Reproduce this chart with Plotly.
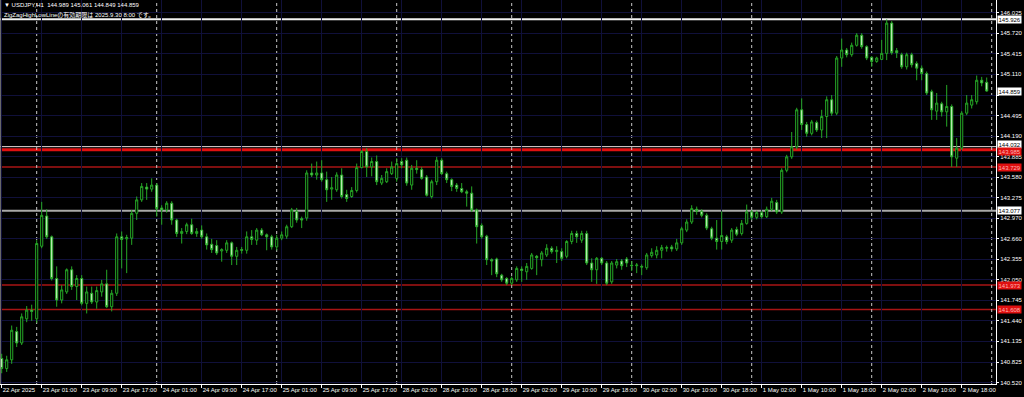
import plotly.graph_objects as go

# ---------------- data (USDJPY H1) ----------------
opens = [
    140.88, 140.73, 140.86, 141.28, 141.11, 141.47, 141.60, 141.47, 142.55, 143.00,
    142.69, 142.07, 141.75, 141.87, 142.20, 141.95, 142.07, 141.70, 141.85, 141.72,
    141.87, 141.99, 141.65, 141.85, 142.69, 142.66, 142.67, 143.04, 143.24, 143.43,
    143.40, 143.46, 143.12, 143.09, 143.19, 142.94, 142.74, 142.77, 142.87, 142.74,
    142.79, 142.69, 142.58, 142.56, 142.48, 142.49, 142.60, 142.40, 142.50, 142.49,
    142.69, 142.64, 142.79, 142.72, 142.69, 142.54, 142.67, 142.70, 142.84, 143.07,
    142.96, 142.97, 143.64, 143.61, 143.64, 143.54, 143.40, 143.39, 143.61, 143.32,
    143.29, 143.38, 143.72, 143.96, 143.73, 143.81, 143.49, 143.51, 143.63, 143.56,
    143.81, 143.83, 143.46, 143.71, 143.69, 143.58, 143.29, 143.51, 143.83, 143.63,
    143.54, 143.46, 143.41, 143.36, 143.34, 143.09, 142.86, 142.70, 142.35, 142.36,
    142.12, 142.07, 142.00, 142.05, 142.21, 142.17, 142.22, 142.40, 142.35, 142.42,
    142.52, 142.47, 142.47, 142.40, 142.62, 142.74, 142.64, 142.74, 142.30, 142.20,
    142.37, 142.30, 142.02, 142.27, 142.33, 142.36, 142.27, 142.26, 142.25, 142.23,
    142.41, 142.42, 142.49, 142.52, 142.54, 142.51, 142.60, 142.79, 142.91, 143.10,
    143.07, 143.01, 142.81, 142.67, 142.62, 142.69, 142.64, 142.80, 142.74, 142.89,
    143.06, 142.98, 143.05, 142.99, 143.10, 143.20, 143.06, 143.68, 143.88, 144.03,
    144.58, 144.36, 144.23, 144.39, 144.28, 144.48, 144.73, 144.53, 145.35, 145.47,
    145.40, 145.54, 145.69, 145.52, 145.36, 145.30, 145.33, 145.42, 145.87, 145.46,
    145.40, 145.22, 145.40, 145.27, 145.20, 145.12, 144.85, 144.56, 144.67, 144.55,
    144.63, 143.86, 144.01, 144.53, 144.65, 144.70, 145.02, 144.989,
]
highs = [
    140.95, 140.92, 141.37, 141.35, 141.55, 141.66, 141.68, 142.64, 143.21, 143.10,
    142.71, 142.25, 141.97, 142.22, 142.25, 142.12, 142.12, 141.95, 141.95, 141.95,
    142.05, 142.20, 141.90, 142.74, 142.77, 142.72, 143.09, 143.29, 143.49, 143.49,
    143.56, 143.49, 143.16, 143.22, 143.22, 142.96, 142.82, 142.90, 142.96, 142.82,
    142.86, 142.74, 142.66, 142.64, 142.52, 142.64, 142.62, 142.54, 142.54, 142.77,
    142.79, 142.82, 142.82, 142.74, 142.72, 142.72, 142.77, 142.87, 143.12, 143.12,
    142.99, 143.68, 143.78, 143.81, 143.83, 143.66, 143.58, 143.65, 143.71, 143.39,
    143.43, 143.78, 143.98, 144.01, 143.87, 143.90, 143.61, 143.71, 143.81, 143.86,
    143.86, 143.87, 143.76, 143.83, 143.73, 143.61, 143.54, 143.88, 143.86, 143.66,
    143.56, 143.49, 143.49, 143.39, 143.44, 143.11, 142.89, 142.72, 142.37, 142.38,
    142.14, 142.09, 142.10, 142.25, 142.25, 142.30, 142.45, 142.42, 142.48, 142.58,
    142.55, 142.55, 142.52, 142.64, 142.78, 142.78, 142.78, 142.78, 142.37, 142.39,
    142.39, 142.33, 142.33, 142.36, 142.36, 142.39, 142.33, 142.30, 142.28, 142.45,
    142.52, 142.55, 142.57, 142.56, 142.57, 142.66, 142.84, 142.95, 143.16, 143.14,
    143.10, 143.04, 142.84, 142.94, 143.07, 142.72, 142.82, 142.84, 142.94, 143.17,
    143.09, 143.08, 143.08, 143.14, 143.27, 143.24, 143.71, 143.91, 144.25, 144.61,
    144.75, 144.40, 144.43, 144.42, 144.58, 144.78, 144.80, 145.38, 145.64, 145.50,
    145.58, 145.72, 145.72, 145.54, 145.38, 145.37, 145.62, 145.926, 145.90, 145.50,
    145.43, 145.43, 145.43, 145.30, 145.24, 145.15, 144.88, 144.83, 144.70, 144.95,
    144.66, 144.16, 144.56, 144.80, 144.80, 145.09, 145.07, 145.061,
]
lows = [
    140.66, 140.68, 140.80, 141.05, 141.08, 141.42, 141.44, 141.41, 142.52, 142.66,
    142.04, 141.65, 141.70, 141.84, 141.90, 141.75, 141.67, 141.55, 141.69, 141.62,
    141.80, 141.63, 141.58, 141.81, 142.22, 142.15, 142.57, 142.94, 143.21, 143.24,
    143.36, 142.99, 142.87, 143.05, 142.87, 142.69, 142.59, 142.73, 142.72, 142.69,
    142.66, 142.50, 142.45, 142.42, 142.32, 142.45, 142.27, 142.27, 142.44, 142.44,
    142.57, 142.57, 142.70, 142.49, 142.50, 142.49, 142.64, 142.66, 142.82, 142.90,
    142.82, 142.93, 143.58, 143.54, 143.51, 143.21, 143.24, 143.36, 143.26, 143.21,
    143.27, 143.35, 143.71, 143.58, 143.59, 143.46, 143.46, 143.49, 143.61, 143.51,
    143.71, 143.45, 143.39, 143.63, 143.54, 143.29, 143.26, 143.46, 143.61, 143.49,
    143.37, 143.36, 143.34, 143.14, 143.06, 142.59, 142.66, 142.27, 142.12, 142.09,
    142.02, 141.97, 141.97, 142.02, 142.02, 142.05, 142.20, 142.12, 142.25, 142.39,
    142.44, 142.30, 142.33, 142.37, 142.58, 142.60, 142.60, 142.27, 142.02, 141.99,
    142.27, 141.97, 141.99, 142.22, 142.20, 142.24, 142.18, 142.15, 142.12, 142.20,
    142.38, 142.37, 142.37, 142.47, 142.47, 142.48, 142.57, 142.76, 142.88, 143.02,
    142.98, 142.79, 142.64, 142.50, 142.50, 142.58, 142.60, 142.70, 142.71, 142.87,
    142.94, 142.95, 142.96, 142.97, 143.07, 143.03, 143.03, 143.65, 143.85, 143.99,
    144.28, 144.18, 144.20, 144.25, 144.16, 144.16, 144.49, 144.50, 145.22, 145.36,
    145.37, 145.52, 145.49, 145.32, 145.22, 145.28, 145.32, 145.32, 145.40, 145.35,
    145.19, 145.18, 145.21, 145.02, 145.02, 144.80, 144.43, 144.43, 144.48, 144.33,
    143.73, 143.73, 143.98, 144.50, 144.60, 144.66, 144.93, 144.849,
]
closes = [
    140.73, 140.86, 141.30, 141.11, 141.50, 141.60, 141.58, 142.59, 143.01, 142.69,
    142.07, 141.75, 141.90, 142.20, 141.95, 142.07, 141.70, 141.87, 141.72, 141.89,
    141.99, 141.65, 141.85, 142.69, 142.65, 142.68, 143.04, 143.24, 143.44, 143.40,
    143.46, 143.11, 143.09, 143.19, 142.94, 142.74, 142.77, 142.87, 142.74, 142.77,
    142.69, 142.57, 142.50, 142.45, 142.50, 142.60, 142.40, 142.49, 142.49, 142.69,
    142.65, 142.79, 142.72, 142.69, 142.54, 142.67, 142.72, 142.84, 143.09, 142.94,
    142.94, 143.64, 143.61, 143.64, 143.54, 143.39, 143.42, 143.61, 143.29, 143.26,
    143.38, 143.72, 143.96, 143.73, 143.81, 143.51, 143.56, 143.66, 143.73, 143.78,
    143.76, 143.49, 143.71, 143.69, 143.56, 143.31, 143.51, 143.83, 143.63, 143.54,
    143.44, 143.41, 143.36, 143.34, 143.09, 142.84, 142.69, 142.35, 142.33, 142.14,
    142.05, 142.00, 142.07, 142.22, 142.19, 142.25, 142.42, 142.38, 142.45, 142.52,
    142.47, 142.49, 142.37, 142.62, 142.74, 142.69, 142.74, 142.30, 142.20, 142.37,
    142.30, 142.00, 142.30, 142.32, 142.26, 142.30, 142.26, 142.27, 142.24, 142.42,
    142.46, 142.49, 142.53, 142.53, 142.51, 142.60, 142.81, 142.91, 143.11, 143.07,
    143.01, 142.82, 142.67, 142.62, 142.71, 142.62, 142.79, 142.73, 142.89, 143.06,
    142.98, 143.05, 142.99, 143.10, 143.22, 143.06, 143.68, 143.88, 144.03, 144.58,
    144.36, 144.23, 144.40, 144.28, 144.48, 144.73, 144.53, 145.35, 145.47, 145.40,
    145.54, 145.69, 145.52, 145.35, 145.30, 145.35, 145.42, 145.87, 145.43, 145.43,
    145.22, 145.40, 145.25, 145.20, 145.12, 144.83, 144.58, 144.68, 144.55, 144.63,
    143.88, 144.01, 144.53, 144.68, 144.73, 145.02, 144.98, 144.859,
]

# time-axis labels, one every 8 bars, first one at bar 0
time_labels = [
    "22 Apr 2025", "23 Apr 01:00", "23 Apr 09:00", "23 Apr 17:00", "24 Apr 01:00",
    "24 Apr 09:00", "24 Apr 17:00", "25 Apr 01:00", "25 Apr 09:00", "25 Apr 17:00",
    "28 Apr 02:00", "28 Apr 10:00", "28 Apr 18:00", "29 Apr 02:00", "29 Apr 10:00",
    "29 Apr 18:00", "30 Apr 02:00", "30 Apr 10:00", "30 Apr 18:00", "1 May 02:00",
    "1 May 10:00", "1 May 18:00", "2 May 02:00", "2 May 10:00", "2 May 18:00",
]
# bars where a new day starts (period separators)
day_start_bars = [7, 31, 55, 79, 102, 126, 150, 174, 198]

# price scale labels (the 144.800 one is hidden under the current-price box)
price_ticks = [
    146.025, 145.720, 145.415, 145.110, 144.800, 144.495, 144.190, 143.885,
    143.580, 143.275, 142.970, 142.660, 142.355, 142.050, 141.745, 141.440,
    141.135, 140.825, 140.520,
]
price_tick_text = [
    "146.025", "145.720", "145.415", "145.110", "", "144.495", "144.190", "143.885",
    "143.580", "143.275", "142.970", "142.660", "142.355", "142.050", "141.745", "141.440",
    "141.135", "140.825", "140.520",
]

# horizontal lines of the ZigZagHighLowLine indicator
level_prices = [145.926, 144.032, 143.985, 143.729, 143.077, 141.973, 141.608]
level_kinds = ["white", "white_thin", "red_main", "red", "gray", "red", "red"]

symbol = "USDJPY,H1"
notice = "ZigZagHighLowLineの有効期限は 2025.9.30 8:00 です。"

# ---------------- figure ----------------
FONT = "Liberation Sans, Arial, Noto Sans CJK JP, sans-serif"
WICK = "#26a826"

bars = list(range(len(opens)))
fig = go.Figure()
fig.add_trace(go.Candlestick(
    x=bars, open=opens, high=highs, low=lows, close=closes,
    increasing=dict(line=dict(color=WICK, width=1), fillcolor="#000000"),
    decreasing=dict(line=dict(color=WICK, width=1), fillcolor="#cdf3c6"),
    whiskerwidth=0, showlegend=False, hoverinfo="skip",
))

style = {
    "white": dict(color="#f2f2f2", width=2, bg="#ffffff", fg="#000000", shift=0),
    "white_thin": dict(color="#e8dada", width=1, bg="#ffffff", fg="#000000", shift=2),
    "red_main": dict(color="#e01010", width=3, bg="#e01010", fg="#ffb0b0", shift=-2),
    "red": dict(color="#a81414", width=1.6, bg="#e01010", fg="#ffb0b0", shift=0),
    "gray": dict(color="#a8a8a8", width=2, bg="#ffffff", fg="#000000", shift=0),
}
shapes = []
for p, k in zip(level_prices, level_kinds):
    s = style[k]
    shapes.append(dict(type="line", xref="paper", x0=0, x1=1, yref="y", y0=p, y1=p,
                       line=dict(color=s["color"], width=s["width"]), layer="below"))
for d in day_start_bars:
    shapes.append(dict(type="line", xref="x", x0=d, x1=d, yref="paper", y0=0, y1=1,
                       line=dict(color="#c8c8c8", width=1, dash="dot"), layer="below"))
# left frame edge
shapes.append(dict(type="line", xref="paper", x0=0, x1=0, yref="paper", y0=0, y1=1,
                   line=dict(color="#8a8a8a", width=1.5)))

annotations = []
for p, k in zip(level_prices, level_kinds):
    s = style[k]
    annotations.append(dict(xref="paper", x=1, xanchor="left", xshift=1, yref="y", y=p,
                            yshift=s["shift"], text=f"{p:.3f}", showarrow=False,
                            bgcolor=s["bg"], borderpad=0.5,
                            font=dict(family=FONT, size=6, color=s["fg"])))
annotations.append(dict(xref="paper", x=1, xanchor="left", xshift=1, yref="y", y=closes[-1],
                        text=f"{closes[-1]:.3f}", showarrow=False, bgcolor="#ffffff",
                        borderpad=0.5, font=dict(family=FONT, size=6, color="#000000")))
annotations.append(dict(xref="paper", yref="paper", x=0, y=1, xanchor="left", yanchor="top",
                        xshift=2, yshift=0, showarrow=False,
                        text=f"▼ {symbol}  {opens[-1]:.3f} {highs[-1]:.3f} {lows[-1]:.3f} {closes[-1]:.3f}",
                        font=dict(family=FONT, size=6, color="#ffffff")))
annotations.append(dict(xref="paper", yref="paper", x=0, y=1, xanchor="left", yanchor="top",
                        xshift=2, yshift=-9, showarrow=False, text=notice,
                        font=dict(family=FONT, size=6, color="#ffffff")))

fig.update_layout(
    width=1024, height=397,
    margin=dict(l=0, r=28, t=0, b=13, autoexpand=False),
    paper_bgcolor="#000000", plot_bgcolor="#000000",
    boxgap=0.4,
    shapes=shapes, annotations=annotations,
    xaxis=dict(
        range=[-0.34, 198.86], rangeslider=dict(visible=False),
        tickvals=list(range(0, 8 * len(time_labels), 8)), ticktext=time_labels,
        tickangle=0, ticks="outside", ticklen=3, tickcolor="#ffffff",
        ticklabelposition="outside right",
        tickfont=dict(family=FONT, size=6, color="#ffffff"),
        showgrid=True, gridcolor="#10103a", gridwidth=1,
        showline=True, linecolor="#ffffff", linewidth=1, zeroline=False, fixedrange=True,
    ),
    yaxis=dict(
        side="right", range=[140.500, 146.214],
        tickvals=price_ticks, ticktext=price_tick_text,
        ticks="outside", ticklen=2, tickcolor="#ffffff",
        tickfont=dict(family=FONT, size=6, color="#ffffff"),
        showgrid=True, gridcolor="#10103a", gridwidth=1,
        showline=True, linecolor="#ffffff", linewidth=1, zeroline=False, fixedrange=True,
    ),
)

fig.write_html("out.html")
